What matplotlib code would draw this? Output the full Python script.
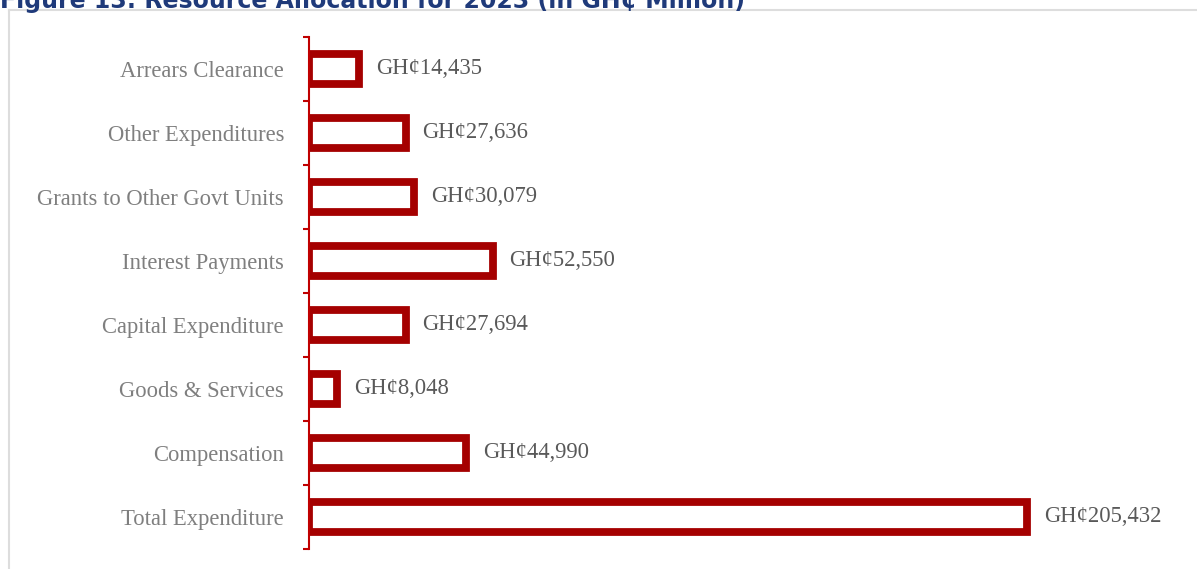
import matplotlib.pyplot as plt
from matplotlib.lines import Line2D

categories = [
    "Total Expenditure",
    "Compensation",
    "Goods & Services",
    "Capital Expenditure",
    "Interest Payments",
    "Grants to Other Govt Units",
    "Other Expenditures",
    "Arrears Clearance",
]
values = [205432, 44990, 8048, 27694, 52550, 30079, 27636, 14435]
value_labels = ["GH¢{:,}".format(v) for v in values]
title = "Figure 13: Resource Allocation for 2023 (in GH¢ Million)"

W, H = 1197, 569
BAR_EDGE = "#A50000"
SPINE_RED = "#C00000"
LABEL_GRAY = "#7F7F7F"
VALUE_GRAY = "#595959"
SERIF = ["Liberation Serif", "DejaVu Serif"]

fig = plt.figure(figsize=(W / 100, H / 100), dpi=100)

# light frame around the chart area, as in the source document
fig.add_artist(Line2D([8.5 / W, 8.5 / W], [0, 1 - 10 / H], color="#DDDDDD", lw=1.5))
fig.add_artist(Line2D([8.5 / W, 1], [1 - 10 / H, 1 - 10 / H], color="#DDDDDD", lw=1.5))

# title, cut off at the top edge of the crop (as in the reference)
fig.text(0, 1 - 8 / H, title, ha="left", va="baseline", fontsize=17,
         fontweight="bold", color="#1F3A7A", family=["DejaVu Sans"])

left, right = 309, 1190
top, bottom = 37, 549
ax = fig.add_axes([left / W, 1 - bottom / H, (right - left) / W, (bottom - top) / H])

scale = (1027 - 309) / 205432
ax.set_xlim(0, (right - left) / scale)
ax.set_ylim(-0.5, len(categories) - 0.5)

ax.barh(range(len(categories)), values, height=0.46, color="white",
        edgecolor=BAR_EDGE, linewidth=5.6)

for i, (v, lab) in enumerate(zip(values, value_labels)):
    ax.annotate(lab, (v, i), xytext=(12, 0), textcoords="offset points",
                ha="left", va="center", fontsize=16.3, color=VALUE_GRAY,
                family=SERIF, annotation_clip=False)

for s in ["top", "right", "bottom"]:
    ax.spines[s].set_visible(False)
ax.spines["left"].set_color(SPINE_RED)
ax.spines["left"].set_linewidth(1.5)

ax.set_xticks([])
ax.set_yticks(range(len(categories)))
ax.set_yticklabels(categories, fontsize=16.3, color=LABEL_GRAY, family=SERIF)
ax.tick_params(axis="y", which="major", length=0, pad=18)
ax.set_yticks([i - 0.5 for i in range(len(categories) + 1)], minor=True)
ax.tick_params(axis="y", which="minor", length=4.5, width=1.5, color=SPINE_RED,
               direction="out")

fig.savefig("out.png", dpi=100)
